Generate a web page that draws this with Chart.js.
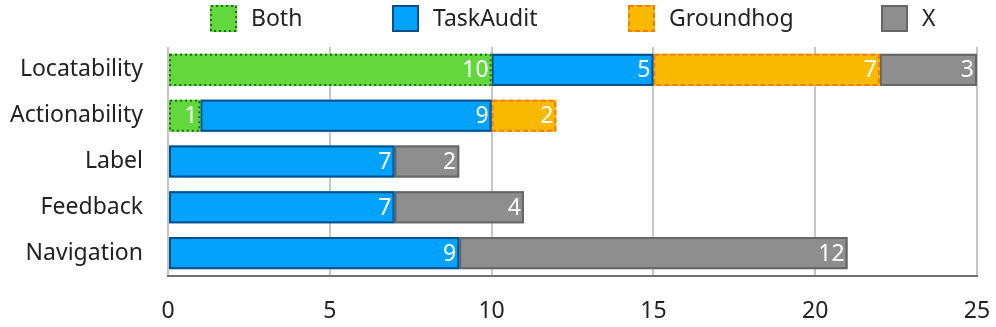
<!DOCTYPE html>
<html>
<head>
<meta charset="utf-8">
<script src="https://cdn.jsdelivr.net/npm/chart.js@4.4.1/dist/chart.umd.min.js"></script>
<style>
  html, body { margin: 0; padding: 0; background: #fff; }
  #wrap { width: 996px; height: 327px; }
</style>
</head>
<body>
<div id="wrap"><canvas id="chart" width="996" height="327"></canvas></div>
<script>
// categories and series values
const categories = ['Locatability', 'Actionability', 'Label', 'Feedback', 'Navigation'];
const both      = [10, 1, null, null, null];
const taskAudit = [5, 9, 7, 7, 9];
const groundhog = [7, 2, null, null, null];
const xOnly     = [3, null, 2, 4, 12];
const xTicks    = [0, 5, 10, 15, 20, 25];

const FONT = '"Noto Sans"';
const FS = 23;

// outline drawn by hand so dashed / dotted borders work on bars
function strokeBox(ctx, x, y, w, h, color, dash) {
  ctx.save();
  ctx.strokeStyle = color;
  ctx.lineWidth = 2;
  ctx.setLineDash(dash);
  ctx.strokeRect(x + 1, y + 1, w - 2, h - 2);
  ctx.restore();
}

const outlinePlugin = {
  id: 'outline',
  afterDatasetDraw(chart, args) {
    const ds = chart.data.datasets[args.index];
    args.meta.data.forEach((el, i) => {
      if (ds.data[i] == null) return;
      const p = el.getProps(['x', 'y', 'base', 'height'], true);
      const left = Math.min(p.x, p.base), right = Math.max(p.x, p.base);
      strokeBox(chart.ctx, left, p.y - p.height / 2, right - left, p.height, ds.outlineColor, ds.outlineDash);
    });
  }
};

// white value labels at the right end of each segment
const valuePlugin = {
  id: 'values',
  afterDatasetsDraw(chart) {
    const ctx = chart.ctx;
    ctx.save();
    ctx.fillStyle = '#fff';
    ctx.font = FS + 'px ' + FONT;
    ctx.textAlign = 'right';
    ctx.textBaseline = 'middle';
    chart.data.datasets.forEach((ds, di) => {
      chart.getDatasetMeta(di).data.forEach((el, i) => {
        const v = ds.data[i];
        if (v == null) return;
        const p = el.getProps(['x', 'y'], true);
        ctx.fillText(String(v), p.x - 3, p.y + 1);
      });
    });
    ctx.restore();
  }
};

// legend with the uneven item spacing of the original
const legendX = [210, 392, 628, 881];
const legendPlugin = {
  id: 'fixedLegend',
  afterDraw(chart) {
    const ctx = chart.ctx;
    ctx.save();
    ctx.font = FS + 'px ' + FONT;
    ctx.textBaseline = 'middle';
    ctx.textAlign = 'left';
    chart.data.datasets.forEach((ds, i) => {
      const x = legendX[i], y = 5, s = 27;
      ctx.fillStyle = ds.backgroundColor;
      ctx.fillRect(x, y, s, s);
      strokeBox(ctx, x, y, s, s, ds.outlineColor, ds.outlineDash);
      ctx.fillStyle = '#222';
      ctx.fillText(ds.label, x + s + 14, y + s / 2 + 1);
    });
    ctx.restore();
  }
};

const ctx = document.getElementById('chart').getContext('2d');
new Chart(ctx, {
  type: 'bar',
  data: {
    labels: categories,
    datasets: [
      { label: 'Both', data: both, backgroundColor: '#62d83d', borderWidth: 0,
        outlineColor: '#1d6b1d', outlineDash: [2, 3] },
      { label: 'TaskAudit', data: taskAudit, backgroundColor: '#03a3fd', borderWidth: 0,
        outlineColor: '#0b4f86', outlineDash: [] },
      { label: 'Groundhog', data: groundhog, backgroundColor: '#f8b900', borderWidth: 0,
        outlineColor: '#f47a10', outlineDash: [5, 3] },
      { label: 'X', data: xOnly, backgroundColor: '#8e8e8e', borderWidth: 0,
        outlineColor: '#666', outlineDash: [] }
    ]
  },
  options: {
    indexAxis: 'y',
    responsive: false,
    animation: false,
    barPercentage: 0.7,
    categoryPercentage: 1,
    layout: { padding: { left: 0, right: 19, top: 47, bottom: 0 } },
    plugins: {
      tooltip: { enabled: false },
      legend: { display: false }
    },
    scales: {
      x: {
        stacked: true,
        min: 0,
        max: 25,
        afterBuildTicks(scale) { scale.ticks = xTicks.map(v => ({ value: v })); },
        afterFit(scale) { scale.height = 51; scale.paddingRight = 0; scale.paddingLeft = 0; },
        grid: { color: '#c6c6c6', lineWidth: 2, drawTicks: false },
        border: { display: true, color: '#707070', width: 2 },
        ticks: { font: { family: FONT, size: FS }, color: '#222', padding: 22 }
      },
      y: {
        stacked: true,
        afterFit(scale) { scale.width = 168; },
        grid: { display: false, drawTicks: false },
        border: { display: false },
        ticks: { font: { family: FONT, size: FS }, color: '#222', padding: 25 }
      }
    }
  },
  plugins: [outlinePlugin, valuePlugin, legendPlugin]
});
</script>
</body>
</html>
